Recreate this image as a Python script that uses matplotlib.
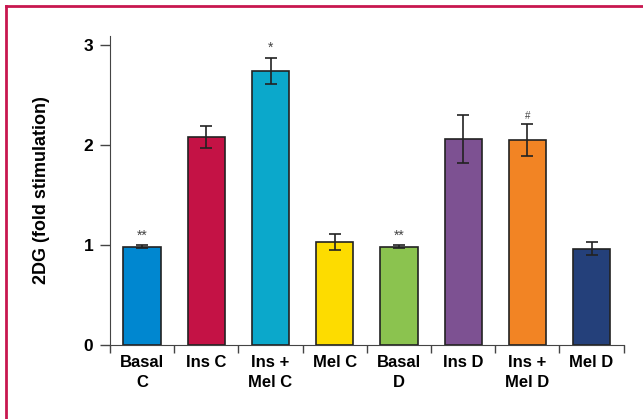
import matplotlib.pyplot as plt
from matplotlib.lines import Line2D

plt.rcParams['font.family'] = ['Liberation Sans', 'DejaVu Sans']

labels = ["Basal\nC", "Ins C", "Ins +\nMel C", "Mel C", "Basal\nD", "Ins D", "Ins +\nMel D", "Mel D"]
values = [0.98, 2.08, 2.74, 1.03, 0.98, 2.06, 2.05, 0.96]
errors = [0.015, 0.11, 0.13, 0.08, 0.015, 0.24, 0.16, 0.065]
colors = ["#0087d0", "#c41245", "#0ba8cb", "#fddc00", "#8bc34f", "#7d5192", "#f28424", "#24407a"]
marks = ["**", "", "*", "", "**", "", "#", ""]

fig = plt.figure(figsize=(6.43, 4.19), dpi=100)
ax = fig.add_axes([0.171, 0.177, 0.799, 0.737])

x = list(range(len(values)))
ax.bar(x, values, width=0.58, color=colors, edgecolor="#222222", linewidth=1.2)
ax.errorbar(x, values, yerr=errors, fmt="none", ecolor="#222222", elinewidth=1.2,
            capsize=4, capthick=1.2)

for xi, v, e, m in zip(x, values, errors, marks):
    if m:
        ax.text(xi, v + e + 0.03, m, ha="center", va="bottom", fontsize=10 if m != "#" else 7,
                color="#444444")

ax.set_xlim(-0.5, 7.5)
ax.set_ylim(0, 3.09)
ax.set_yticks([0, 1, 2, 3])
ax.set_yticklabels(["0", "1", "2", "3"], fontsize=12.5, fontweight="bold")
ax.tick_params(axis="y", direction="out", length=7, width=1, color="#444444", pad=5)

# ticks between the categories, names written under the bars
ax.set_xticks([i - 0.5 for i in range(9)])
ax.set_xticklabels([])
ax.tick_params(axis="x", direction="out", length=6, width=1, color="#444444")
for xi, lab in zip(x, labels):
    ax.text(xi, -0.1, lab, ha="center", va="top", fontsize=12, fontweight="bold",
            linespacing=1.45)

ax.spines["top"].set_visible(False)
ax.spines["right"].set_visible(False)
ax.spines["left"].set_color("#444444")
ax.spines["bottom"].set_color("#444444")

ax.set_ylabel("2DG (fold stimulation)", fontsize=13, fontweight="bold", labelpad=24)

# frame lines on top and left
fig.add_artist(Line2D([6 / 643, 6 / 643], [0, 1 - 6 / 419], transform=fig.transFigure,
                      color="#c8174f", linewidth=2))
fig.add_artist(Line2D([6 / 643, 1], [1 - 6 / 419, 1 - 6 / 419], transform=fig.transFigure,
                      color="#c8174f", linewidth=2))

fig.savefig("out.png", dpi=100)
